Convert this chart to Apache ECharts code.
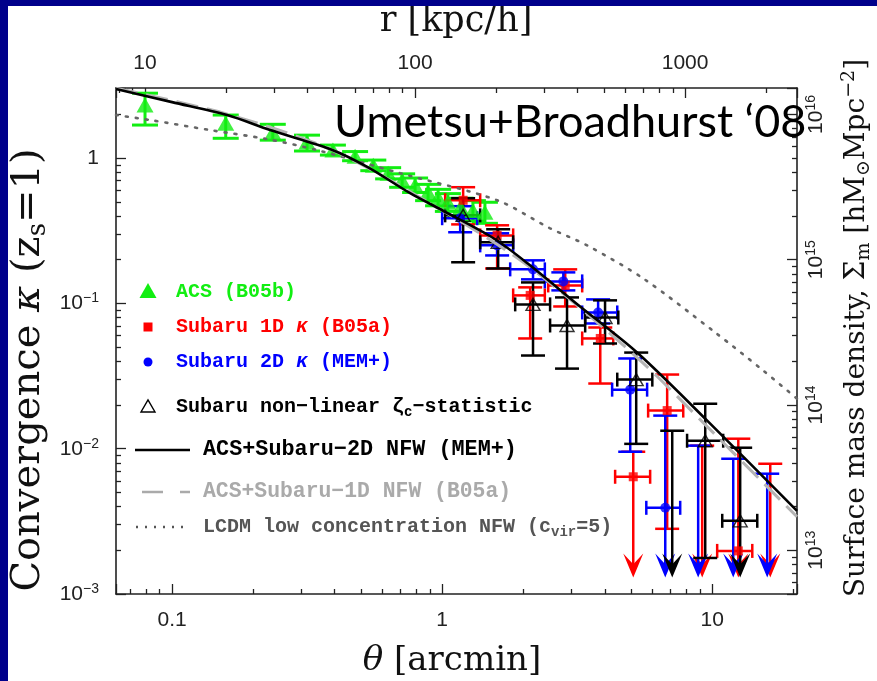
<!DOCTYPE html>
<html>
<head>
<meta charset="utf-8">
<script src="https://cdn.jsdelivr.net/npm/echarts@6/dist/echarts.min.js"></script>
<style>
  html, body { margin: 0; padding: 0; background: #ffffff; }
  #chart { width: 877px; height: 681px; }
</style>
</head>
<body>
<div id="chart"></div>
<script>
// ---------------- axis ranges ----------------
const THETA_MIN = 0.062, THETA_MAX = 20.6;      // arcmin
const KAPPA_MIN = 0.001, KAPPA_MAX = 3.04;
const KPC_PER_ARCMIN = 126;                      // r [kpc/h] per arcmin
const SIGMA_CRIT = 5.0e15;                       // hM_sun Mpc^-2, z_s = 1
const ARROW_TIP = 0.0013;                        // lower end of upper-limit arrows

// ---------------- ACS (B05b) ----------------
const acsTheta   = [0.0794, 0.158, 0.236, 0.316, 0.394, 0.476, 0.556, 0.631, 0.711, 0.794, 0.887, 0.966, 1.05, 1.17, 1.30, 1.44];
const acsKappa   = [2.32, 1.74, 1.51, 1.29, 1.14, 1.03, 0.895, 0.788, 0.705, 0.652, 0.583, 0.538, 0.497, 0.459, 0.437, 0.425];
const acsKappaLo = [1.69, 1.37, 1.33, 1.12, 1.05, 0.96, 0.82, 0.72, 0.63, 0.58, 0.51, 0.47, 0.43, 0.39, 0.37, 0.356];
const acsKappaHi = [2.80, 1.98, 1.71, 1.44, 1.23, 1.11, 0.97, 0.86, 0.78, 0.73, 0.66, 0.61, 0.57, 0.53, 0.51, 0.497];

// ---------------- Subaru 1D kappa (B05a) ----------------
// null kappa: no point drawn; null kappaLo: upper limit (arrow)
const s1dTheta   = [1.196, 1.598, 2.118, 2.855, 3.85, 5.10, 6.81, 9.18, 12.49, 16.4];
const s1dKappa   = [0.513, 0.294, 0.1136, 0.133, 0.0574, 0.00641, 0.0183, null, 0.00198, null];
const s1dKappaHi = [0.631, 0.345, 0.129, 0.1716, 0.0683, 0.00953, 0.0324, 0.0105, 0.01172, 0.00788];
const s1dKappaLo = [0.35, 0.174, 0.0574, 0.0953, 0.0281, null, 0.00281, null, null, null];
const s1dThetaLo = [1.026, 1.383, 1.832, 2.47, 3.30, 4.37, 5.79, null, 10.43, null];
const s1dThetaHi = [1.383, 1.832, 2.40, 3.30, 4.30, 5.89, 7.81, null, 14.07, null];

// ---------------- Subaru 2D kappa (MEM+) ----------------
const s2dTheta   = [1.166, 1.598, 2.17, 2.81, 3.78, 4.97, 6.70, 8.87, 11.96, 15.98];
const s2dKappa   = [0.386, 0.251, 0.1716, 0.1418, 0.0867, 0.0255, 0.00392, null, null, null];
const s2dKappaHi = [0.467, 0.304, 0.198, 0.1636, 0.1066, 0.0418, 0.0169, 0.0105, 0.00853, 0.00673];
const s2dKappaLo = [0.309, 0.214, 0.1465, 0.123, 0.0728, 0.00953, null, null, null, null];
const s2dThetaLo = [1.0, 1.383, 1.786, 2.40, 3.30, 4.26, 5.70, null, null, null];
const s2dThetaHi = [1.348, 1.832, 2.40, 3.30, 4.45, 5.74, 7.61, null, null, null];

// ---------------- Subaru non-linear zeta_c statistic ----------------
const zetaTheta   = [1.196, 1.612, 2.17, 2.90, 4.01, 5.23, 7.11, 9.42, 12.69];
const zetaKappa   = [0.404, 0.2635, 0.0985, 0.0705, 0.080, 0.0299, null, 0.01135, 0.00319];
const zetaKappaHi = [0.530, 0.324, 0.1395, 0.110, 0.105, 0.0459, 0.0133, 0.0204, 0.01016];
const zetaKappaLo = [0.192, 0.174, 0.0438, 0.0356, 0.053, 0.0108, null, 0.00177, null];
const zetaThetaLo = [1.026, 1.383, 1.864, 2.51, 3.385, 4.45, null, 8.07, 10.89];
const zetaThetaHi = [1.383, 1.832, 2.51, 3.385, 4.49, 6.00, null, 10.98, 14.68];

// ---------------- model profiles ----------------
const nfw2dTheta = [0.062, 0.1, 0.16, 0.2307, 0.394, 0.53, 0.761, 1.0, 1.55, 2.07, 3.24, 5.27, 9.58, 20.6];
const nfw2dKappa = [2.99, 2.43, 1.98, 1.56, 1.135, 0.867, 0.574, 0.438, 0.281, 0.189, 0.0953, 0.0459, 0.0156, 0.00373];
const nfw1dTheta = [0.062, 0.16, 0.394, 1.0, 2.07, 5.27, 9.58, 20.6];
const nfw1dKappa = [3.03, 2.01, 1.13, 0.436, 0.183, 0.0424, 0.0142, 0.0034];
const lcdmTheta  = [0.062, 0.0829, 0.1383, 0.2249, 0.3443, 0.699, 1.598, 2.51, 3.44, 5.55, 10.26, 15.45, 20.6];
const lcdmKappa  = [1.98, 1.83, 1.56, 1.352, 1.136, 0.788, 0.513, 0.329, 0.251, 0.1487, 0.0631, 0.0345, 0.0221];

// ---------------- legend texts ----------------
const legendLabels = [
  'ACS (B05b)',
  'Subaru 1D {i|κ} (B05a)',
  'Subaru 2D {i|κ} (MEM+)',
  'Subaru non\u2212linear ζ{sub|c}\u2212statistic',
  'ACS+Subaru\u22122D NFW (MEM+)',
  'ACS+Subaru\u22121D NFW (B05a)',
  'LCDM low concentration NFW (c{sub|vir}=5)'
];
const titleText = 'Umetsu+Broadhurst \u201808';

// ---------------- colours ----------------
const GREEN = '#12ee12', RED = '#ff0000', BLUE = '#0000ff', BLACK = '#000000';

const zip = (a, b) => a.map((v, i) => [v, b[i]]);
const pointsOf = (t, k) => t.map((v, i) => [v, k[i]]).filter(p => p[1] != null);

// rows for error bar series: [theta, kCentre, kHi, kLo, thetaLo, thetaHi, upperLimit]
function errRows(t, k, hi, lo, tlo, thi) {
  return t.map((v, i) => [
    v,
    k[i] != null ? k[i] : hi[i],
    hi[i],
    lo && lo[i] != null ? lo[i] : ARROW_TIP,
    tlo && tlo[i] != null ? tlo[i] : 0,
    thi && thi[i] != null ? thi[i] : 0,
    lo && lo[i] == null ? 1 : 0
  ]);
}

function errorBars(color, o) {
  return function (params, api) {
    const th = api.value(0), kc = api.value(1), khi = api.value(2), klo = api.value(3);
    const tlo = api.value(4), thi = api.value(5), ul = api.value(6);
    const top = api.coord([th, khi]);
    const x = top[0], yTop = top[1];
    const yBot = api.coord([th, klo])[1];
    const st = { stroke: color, lineWidth: o.lw, fill: null };
    const kids = [];
    const seg = (x1, y1, x2, y2) => kids.push({ type: 'line', shape: { x1, y1, x2, y2 }, style: st });
    seg(x, yTop, x, ul ? yBot - 6 : yBot);
    seg(x - o.cap, yTop, x + o.cap, yTop);
    if (ul) {
      kids.push({
        type: 'polygon',
        shape: { points: [[x - o.head, yBot - o.headLen], [x, yBot - o.headLen * 0.55], [x + o.head, yBot - o.headLen], [x, yBot]] },
        style: { fill: color }
      });
    } else {
      seg(x - o.cap, yBot, x + o.cap, yBot);
    }
    if (thi > tlo && tlo > 0) {
      const yc = api.coord([th, kc])[1];
      const xl = api.coord([tlo, kc])[0], xr = api.coord([thi, kc])[0];
      seg(xl, yc, xr, yc);
      seg(xl, yc - o.end, xl, yc + o.end);
      seg(xr, yc - o.end, xr, yc + o.end);
    }
    return { type: 'group', children: kids };
  };
}

const barOpts = { lw: 2.5, cap: 12, end: 7, head: 10, headLen: 24 };

const tickFont = { fontFamily: 'Liberation Sans', fontSize: 21, color: '#222' };
const supRich = { sup: { fontFamily: 'Liberation Sans', fontSize: 14, lineHeight: 13, verticalAlign: 'top', color: '#222' } };
const axisLineStyle = { show: true, lineStyle: { color: '#222', width: 1.6 } };
const tickStyle = { show: true, inside: true, length: 10, lineStyle: { color: '#222', width: 1.3 } };
const minorStyle = { show: true, splitNumber: 9, length: 5, lineStyle: { color: '#222', width: 1.3 } };

const expOf = v => Math.round(Math.log10(v));
const supLabel = v => {
  const e = expOf(v);
  if (e === 0) return '1';
  return '10{sup|' + (e < 0 ? '\u2212' + (-e) : e) + '}';
};

// ---------------- legend graphics ----------------
const legendColors = [GREEN, RED, BLUE, BLACK, BLACK, '#aaaaaa', '#555555'];
const legendSizes = [20, 20, 20, 20, 21.8, 21.4, 20];
const legendY = [292, 327, 362, 407, 450, 492, 527];
const legendX = [176, 176, 176, 176, 203, 203, 203];
const monoFont = '"Liberation Mono", "DejaVu Sans Mono", monospace';

const legendGraphics = [];
legendLabels.forEach((txt, i) => {
  const fs = legendSizes[i];
  legendGraphics.push({
    type: 'text', left: legendX[i], top: legendY[i] - 12, z: 100,
    style: {
      text: txt, fill: legendColors[i], font: 'bold ' + fs + 'px ' + monoFont,
      lineHeight: 24, verticalAlign: 'top',
      rich: {
        i: { fontStyle: 'italic', fontWeight: 'bold', fontSize: fs, fontFamily: monoFont, fill: legendColors[i], lineHeight: 24 },
        sub: { fontWeight: 'bold', fontSize: 14, fontFamily: monoFont, fill: legendColors[i], lineHeight: 14, verticalAlign: 'bottom' }
      }
    }
  });
});
legendGraphics.push(
  { type: 'polygon', z: 100, shape: { points: [[139.5, 298], [156.5, 298], [148, 283]] }, style: { fill: GREEN } },
  { type: 'rect', z: 100, shape: { x: 143.5, y: 322.5, width: 9, height: 9 }, style: { fill: RED } },
  { type: 'circle', z: 100, shape: { cx: 148, cy: 362, r: 4.5 }, style: { fill: BLUE } },
  { type: 'polygon', z: 100, shape: { points: [[141, 412], [155, 412], [148, 400]] }, style: { fill: null, stroke: BLACK, lineWidth: 1.4 } },
  { type: 'line', z: 100, shape: { x1: 135, y1: 450, x2: 190, y2: 450 }, style: { stroke: BLACK, lineWidth: 2.5 } },
  { type: 'line', z: 100, shape: { x1: 142, y1: 492, x2: 190, y2: 492 }, style: { stroke: '#aaaaaa', lineWidth: 2.5, lineDash: [21, 17] } },
  { type: 'line', z: 100, shape: { x1: 136, y1: 527, x2: 190, y2: 527 }, style: { stroke: '#555555', lineWidth: 2.5, lineDash: [2, 7] } }
);

const serif = '"DejaVu Serif", "Liberation Serif", serif';

const chart = echarts.init(document.getElementById('chart'), null, { renderer: 'canvas' });
chart.setOption({
  animation: false,
  backgroundColor: '#ffffff',
  grid: { left: 116, right: 80, top: 88, bottom: 87, containLabel: false },
  xAxis: [
    {
      type: 'log', position: 'bottom', min: THETA_MIN, max: THETA_MAX,
      axisLine: axisLineStyle, axisTick: tickStyle, minorTick: minorStyle,
      splitLine: { show: false },
      axisLabel: Object.assign({ margin: 16, showMinLabel: false, showMaxLabel: false, formatter: v => String(v) }, tickFont)
    },
    {
      type: 'log', position: 'top', min: THETA_MIN * KPC_PER_ARCMIN, max: THETA_MAX * KPC_PER_ARCMIN,
      axisLine: axisLineStyle, axisTick: tickStyle, minorTick: minorStyle,
      splitLine: { show: false },
      axisLabel: Object.assign({ margin: 14, showMinLabel: false, showMaxLabel: false, formatter: v => String(Math.round(v)) }, tickFont)
    }
  ],
  yAxis: [
    {
      type: 'log', position: 'left', min: KAPPA_MIN, max: KAPPA_MAX,
      axisLine: axisLineStyle, axisTick: tickStyle, minorTick: minorStyle,
      splitLine: { show: false },
      axisLabel: Object.assign({ margin: 17, showMinLabel: true, showMaxLabel: false, formatter: supLabel, rich: supRich, lineHeight: 24 }, tickFont)
    },
    {
      type: 'log', position: 'right', min: KAPPA_MIN * SIGMA_CRIT, max: KAPPA_MAX * SIGMA_CRIT,
      axisLine: axisLineStyle, axisTick: tickStyle, minorTick: minorStyle,
      splitLine: { show: false },
      axisLabel: Object.assign({ margin: 7, rotate: 90, showMinLabel: false, showMaxLabel: false, formatter: supLabel, rich: supRich, lineHeight: 24 }, tickFont)
    }
  ],
  series: [
    { type: 'line', name: 'LCDM', data: zip(lcdmTheta, lcdmKappa), smooth: 0.3, symbol: 'none',
      lineStyle: { color: '#666666', width: 2.6, type: [2, 8], cap: 'round' } },
    { type: 'line', name: 'NFW 1D', data: zip(nfw1dTheta, nfw1dKappa), smooth: 0.3, symbol: 'none',
      lineStyle: { color: '#b4b4b4', width: 3, type: [22, 9] } },
    { type: 'line', name: 'NFW 2D', data: zip(nfw2dTheta, nfw2dKappa), smooth: 0.3, symbol: 'none',
      lineStyle: { color: BLACK, width: 2.6 } },

    { type: 'custom', name: 'ACS err', encode: { x: 0, y: 1 },
      data: errRows(acsTheta, acsKappa, acsKappaHi, acsKappaLo, null, null),
      renderItem: errorBars(GREEN, { lw: 3, cap: 13, end: 0, head: 10, headLen: 24 }) },
    { type: 'scatter', name: 'ACS', data: zip(acsTheta, acsKappa), symbol: 'triangle', symbolSize: [17, 15],
      itemStyle: { color: GREEN } },

    { type: 'custom', name: '1D err', encode: { x: 0, y: 1 },
      data: errRows(s1dTheta, s1dKappa, s1dKappaHi, s1dKappaLo, s1dThetaLo, s1dThetaHi),
      renderItem: errorBars(RED, barOpts) },
    { type: 'scatter', name: '1D', data: pointsOf(s1dTheta, s1dKappa), symbol: 'rect', symbolSize: 9,
      itemStyle: { color: RED } },

    { type: 'custom', name: '2D err', encode: { x: 0, y: 1 },
      data: errRows(s2dTheta, s2dKappa, s2dKappaHi, s2dKappaLo, s2dThetaLo, s2dThetaHi),
      renderItem: errorBars(BLUE, barOpts) },
    { type: 'scatter', name: '2D', data: pointsOf(s2dTheta, s2dKappa), symbol: 'circle', symbolSize: 10,
      itemStyle: { color: BLUE } },

    { type: 'custom', name: 'zeta err', encode: { x: 0, y: 1 },
      data: errRows(zetaTheta, zetaKappa, zetaKappaHi, zetaKappaLo, zetaThetaLo, zetaThetaHi),
      renderItem: errorBars(BLACK, barOpts) },
    { type: 'scatter', name: 'zeta', data: pointsOf(zetaTheta, zetaKappa), symbol: 'triangle', symbolSize: [14, 12],
      itemStyle: { color: 'rgba(255,255,255,0)', borderColor: BLACK, borderWidth: 1.4 } }
  ],
  graphic: [
    // slide frame
    { type: 'rect', shape: { x: 0, y: 0, width: 8, height: 681 }, style: { fill: '#00008b' }, z: 200 },
    { type: 'rect', shape: { x: 0, y: 0, width: 877, height: 6 }, style: { fill: '#00008b' }, z: 200 },
    // annotation
    { type: 'text', left: 334, top: 100, z: 100,
      style: { text: titleText, fill: '#000', font: '45px Lato, "Open Sans", sans-serif' } },
    // axis titles
    { type: 'text', x: 452, y: 661, z: 100,
      style: { text: '{i|θ} [arcmin]', fill: '#111', font: '34px ' + serif, align: 'center', verticalAlign: 'middle',
        rich: { i: { fontStyle: 'italic', fontSize: 34, fontFamily: serif, fill: '#111' } } } },
    { type: 'text', x: 456, y: 22, z: 100,
      style: { text: 'r [kpc/h]', fill: '#111', font: '35px ' + serif, align: 'center', verticalAlign: 'middle' } },
    { type: 'text', x: 29, y: 370, rotation: Math.PI / 2, z: 100,
      style: { text: 'Convergence {i|κ} (z{sub|s}=1)', fill: '#111', font: '40px ' + serif, align: 'center', verticalAlign: 'middle',
        lineHeight: 44,
        rich: { i: { fontStyle: 'italic', fontSize: 40, fontFamily: serif, fill: '#111', lineHeight: 44 },
                sub: { fontSize: 26, fontFamily: serif, fill: '#111', lineHeight: 24, verticalAlign: 'bottom' } } } },
    { type: 'text', x: 857, y: 328, rotation: Math.PI / 2, z: 100,
      style: { text: 'Surface mass density, Σ{sub|m} [hM{sub|⊙}Mpc{sup|\u22122}]', fill: '#111', font: '28px ' + serif,
        align: 'center', verticalAlign: 'middle', lineHeight: 34,
        rich: { sub: { fontSize: 19, fontFamily: serif, fill: '#111', lineHeight: 17, verticalAlign: 'bottom' },
                sup: { fontSize: 19, fontFamily: serif, fill: '#111', lineHeight: 17, verticalAlign: 'top' } } } }
  ].concat(legendGraphics)
});
</script>
</body>
</html>
